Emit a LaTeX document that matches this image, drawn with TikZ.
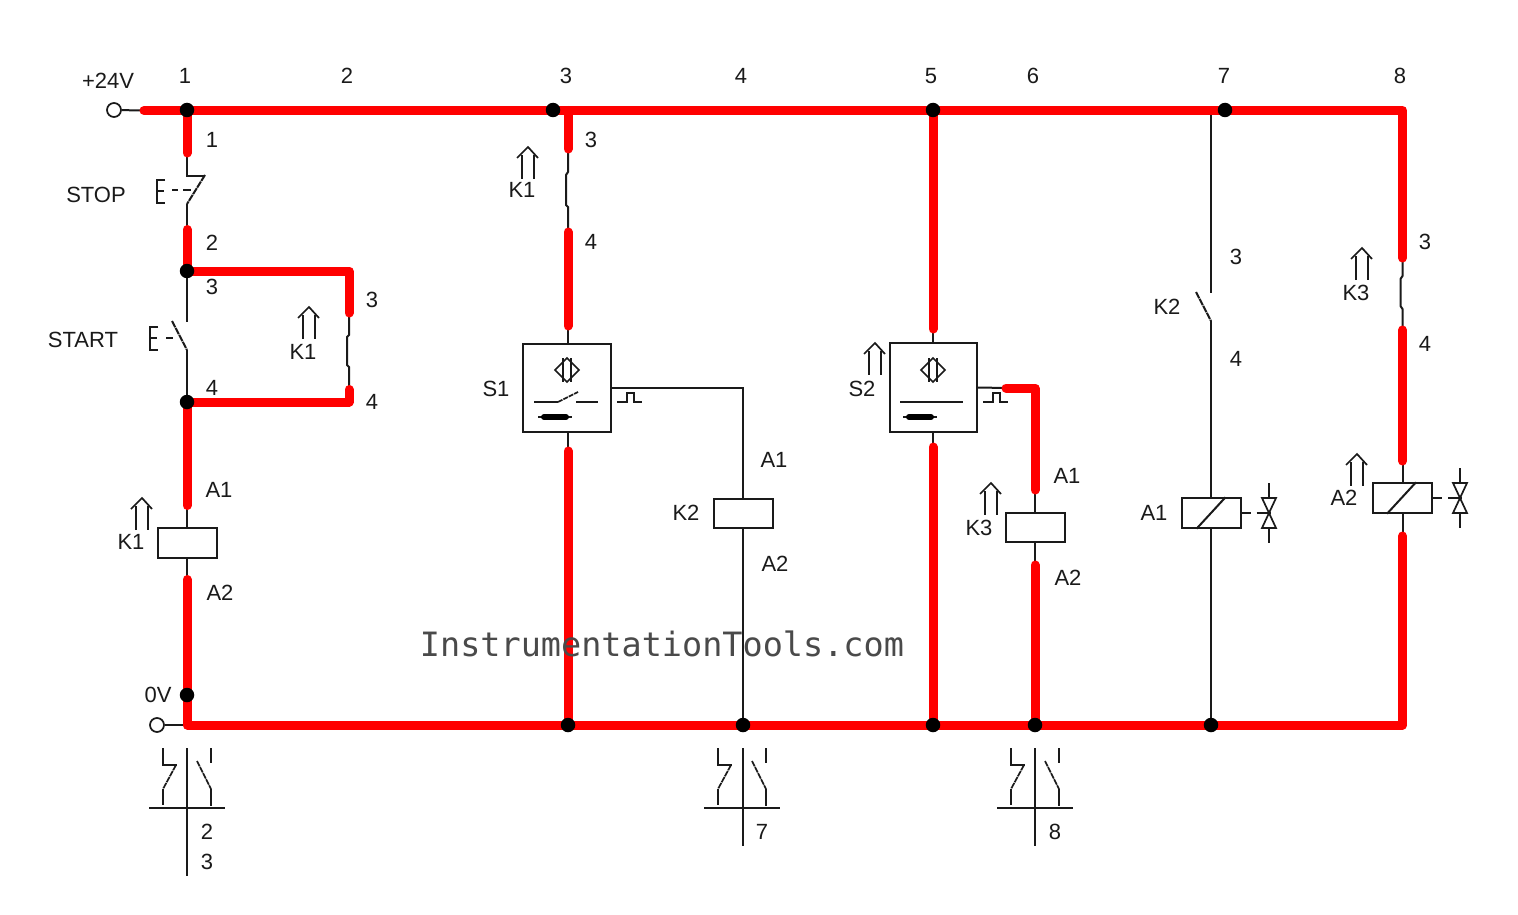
\documentclass[tikz,border=0pt]{standalone}
\usepackage{fontspec}
\setmainfont{Liberation Sans}
\newfontfamily\wmfont{DejaVu Sans Mono}
\usetikzlibrary{calc}
\definecolor{ink}{HTML}{1A1A1A}
\definecolor{wmink}{HTML}{4A4A4A}
\tikzset{
  hot/.style={draw=red,line width=9pt,line cap=round,line join=round},
  wire/.style={draw=ink,line width=2pt,line join=miter},
  fine/.style={draw=ink,line width=1.7pt},
  dot/.style={circle,fill=black,draw=none,minimum size=14.5pt,inner sep=0pt},
  term/.style={circle,fill=white,draw=ink,line width=1.7pt,minimum size=14pt,inner sep=0pt},
  lbl/.style={text=ink,inner sep=0pt,font=\fontsize{22}{22}\selectfont},
  coilbox/.style={rectangle,draw=ink,line width=2pt,fill=white,minimum width=59pt,minimum height=29.5pt,inner sep=0pt},
  sensebox/.style={rectangle,draw=ink,line width=2pt,fill=white,inner sep=0pt},
  upmark/.pic={
    \draw[fine] (-6,8)--(-6,32) (6,8)--(6,32);
    \draw[fine] (-11,11)--(0,0)--(10,11);
  },
  ehandle/.pic={
    \draw[fine] (8,0)--(0,0)--(0,23)--(8,23) (0,11)--(7,11);
  },
  sensorhead/.pic={
    \draw[fine] (-12,0)--(0,-12)--(12,0)--(0,12)--cycle;
    \draw[fine] (-4,-12)--(-4,12);
    \draw[line width=2.4pt,draw=ink] (4,-12)--(4,12);
  },
  magbar/.pic={
    \draw[line width=2pt,draw=ink] (-17,0)--(17,0);
    \draw[line width=6pt,draw=black,line cap=round] (-11,0)--(11,0);
  },
  pulse/.pic={
    \draw[fine] (0,9)--(10,9)--(10,0)--(17,0)--(17,9)--(25,9);
  },
  valve/.pic={
    \draw[fine] (0,-30)--(0,-15) (0,15)--(0,30);
    \draw[fine] (-7,-15)--(7,-15)--(-7,15)--(7,15)--cycle;
  },
  auxset/.pic={
    \draw[fine] (-24,0)--(-24,17)--(-10,17);
    \draw[fine,dash pattern=on 6pt off 0.8pt] (-11,17)--(-24,41);
    \draw[fine] (-24,41)--(-24,57);
    \draw[fine] (24,0)--(24,15);
    \draw[fine,dash pattern=on 6pt off 0.8pt] (10,13)--(24,41);
    \draw[fine] (24,41)--(24,58);
    \draw[fine] (-38,60)--(38,60);
  },
}
\begin{document}
\begin{tikzpicture}[x=1pt,y=-1pt]
\useasboundingbox (0,0) rectangle (1518,915);
\fill[white] (0,0) rectangle (1518,915);

% rail and junction positions
\coordinate (railL) at (144,110.5);
\coordinate (railR) at (1402.5,110.5);
\coordinate (botR) at (1402.5,725);
\coordinate (t1) at (187,110.5);
\coordinate (t3) at (568,110.5);
\coordinate (t5) at (933,110.5);
\coordinate (t7) at (1211,110.5);
\coordinate (b1) at (187,725);
\coordinate (b3) at (568,725);
\coordinate (b4) at (743,725);
\coordinate (b5) at (933,725);
\coordinate (b6) at (1035,725);
\coordinate (b7) at (1211,725);

% boxes
\node[coilbox] (K1c) at (187,543) {};
\node[coilbox] (K2c) at (743,513.5) {};
\node[coilbox] (K3c) at (1035,527.5) {};
\node[coilbox] (A1c) at (1211,513) {};
\node[coilbox] (A2c) at (1402.5,498) {};
\node[sensebox,minimum width=88pt,minimum height=88pt] (S1b) at (567,388) {};
\node[sensebox,minimum width=87pt,minimum height=89pt] (S2b) at (933.5,387.5) {};

% stub end points
\coordinate (s1a) at (187,153);
\coordinate (s1b) at (187,229.5);
\coordinate (j2) at (187,271);
\coordinate (j4) at (187,402);
\coordinate (r2a) at (349,271);
\coordinate (r2b) at (349,313);
\coordinate (r2c) at (349,389.5);
\coordinate (r2d) at (349,402);
\coordinate (k1a) at (187,505.5);
\coordinate (k1b) at (187,579.5);
\coordinate (m3a) at (568,149);
\coordinate (m3b) at (568,232);
\coordinate (m3c) at (568,326);
\coordinate (m3d) at (568,451);
\coordinate (m5a) at (933,329);
\coordinate (m5b) at (933,447);
\coordinate (m6o) at (1006,388);
\coordinate (m6c) at (1035,388);
\coordinate (m6a) at (1035,490);
\coordinate (m6b) at (1035,565);
\coordinate (m8a) at (1402.5,258);
\coordinate (m8b) at (1402.5,330);
\coordinate (m8c) at (1402.5,461);
\coordinate (m8d) at (1402.5,536);
\coordinate (m4c) at (743,388);

% de-energised wiring
\node[term] (tp) at (114,110) {};
\node[term] (tn) at (157,725) {};
\path[wire] (tp)--(railL);
\path[wire] (tn)--(b1);
\path[wire] (s1a)--(187,176)--(205,176);
\path[wire,dash pattern=on 7pt off 0.8pt] (205,175)--(187,204);
\path[wire] (187,204)--(s1b);
\path[fine] (172,190)--(178,190) (183,190)--(191,190);
\path[wire] (j2)--(187,322);
\path[wire,dash pattern=on 7pt off 0.8pt] (172,321)--(187,350);
\path[wire] (187,350)--(j4);
\path[fine] (166,338)--(173,338);
\pic at (157,180) {ehandle};
\pic at (150,327) {ehandle};
\path[wire] (r2b)--(349,335)--(347,337)--(347,365)--(349,367)--(r2c);
\path[wire] (m3a)--(568,172)--(566,175)--(566,205)--(568,207)--(m3b);
\path[wire] (m8a)--(1402.5,276)--(1400.5,279)--(1400.5,306)--(1402.5,309)--(m8b);
\path[wire] (k1a)--(K1c.north) (K1c.south)--(k1b);
\path[wire] (m3c)--(m3c|-S1b.north) (m3d|-S1b.south)--(m3d);
\path[wire] (S1b.east)--(m4c)--(K2c.north);
\path[wire] (K2c.south)--(b4);
\path[wire] (m5a)--(m5a|-S2b.north) (m5b|-S2b.south)--(m5b);
\path[wire] (S2b.east)--(m6o);
\path[wire] (m6a)--(K3c.north) (K3c.south)--(m6b);
\path[wire] (t7)--(1211,293);
\path[wire,dash pattern=on 7pt off 0.8pt] (1196,292)--(1211,321);
\path[wire] (1211,321)--(A1c.north);
\path[wire] (A1c.south)--(b7);
\path[wire] (m8c)--(A2c.north) (A2c.south)--(m8d);
\path[wire] (A1c.south west)+(16,0)--($(A1c.north west)+(45,0)$);
\path[wire] (A2c.south west)+(15,0)--($(A2c.north west)+(44,0)$);
\path[wire] (A1c.east)-- ++(9,0) ++(6,0)-- ++(14,0);
\path[wire] (A2c.east)-- ++(9,0) ++(6,0)-- ++(14,0);
\pic at (1269,513) {valve};
\pic at (1460,498) {valve};

% energised wiring
\path[hot] (railL)--(railR)--(m8a);
\path[hot] (m8b)--(m8c);
\path[hot] (m8d)--(botR)--(b1)--(k1b);
\path[hot] (t1)--(s1a);
\path[hot] (s1b)--(j2)--(r2a)--(r2b);
\path[hot] (r2c)--(r2d)--(j4)--(k1a);
\path[hot] (t3)--(m3a);
\path[hot] (m3b)--(m3c);
\path[hot] (m3d)--(b3);
\path[hot] (t5)--(m5a);
\path[hot] (m5b)--(b5);
\path[hot] (m6o)--(m6c)--(m6a);
\path[hot] (m6b)--(b6);

% sensor internals
\pic at (567,370) {sensorhead};
\pic at (933,370) {sensorhead};
\path[fine] (534,402)--(558,402) (576,402)--(598,402);
\path[fine,dash pattern=on 5pt off 1pt] (558,402)--(578,392);
\path[fine] (900,402)--(963,402);
\pic at (555,417) {magbar};
\pic at (920,417) {magbar};
\pic at (617,393) {pulse};
\pic at (983,393) {pulse};

% mechanical links
\pic at (142,498) {upmark};
\pic at (309,307) {upmark};
\pic at (528,147) {upmark};
\pic at (875,343) {upmark};
\pic at (991,483) {upmark};
\pic at (1362,248) {upmark};
\pic at (1357,454) {upmark};
\pic at (187,748) {auxset};
\pic at (742,748) {auxset};
\pic at (1035,748) {auxset};
\path[wire] (187,748)--(187,876);
\path[wire] (743,748)--(743,846);
\path[wire] (1035,748)--(1035,846);

% junction dots
\node[dot] (d1) at (187,110) {};
\node[dot] (d2) at (553,110) {};
\node[dot] (d3) at (933,110) {};
\node[dot] (d4) at (1225,110) {};
\node[dot] (d5) at (j2) {};
\node[dot] (d6) at (j4) {};
\node[dot] (d7) at (187,695) {};
\node[dot] (d8) at (b3) {};
\node[dot] (d9) at (b4) {};
\node[dot] (d10) at (b5) {};
\node[dot] (d11) at (b6) {};
\node[dot] (d12) at (b7) {};

% labels
\node[lbl] (l01) at (108,81) {+24V};
\node[lbl] (l02) at (185,76) {1};
\node[lbl] (l03) at (347,76) {2};
\node[lbl] (l04) at (566,76) {3};
\node[lbl] (l05) at (741,76) {4};
\node[lbl] (l06) at (931,76) {5};
\node[lbl] (l07) at (1033,76) {6};
\node[lbl] (l08) at (1224,76) {7};
\node[lbl] (l09) at (1400,76) {8};
\node[lbl] (l10) at (212,140) {1};
\node[lbl] (l11) at (96,195) {STOP};
\node[lbl] (l12) at (212,243) {2};
\node[lbl] (l13) at (212,287) {3};
\node[lbl] (l14) at (83,340) {START};
\node[lbl] (l15) at (303,352) {K1};
\node[lbl] (l16) at (372,300) {3};
\node[lbl] (l17) at (372,402) {4};
\node[lbl] (l18) at (212,388) {4};
\node[lbl] (l19) at (219,490) {A1};
\node[lbl] (l20) at (131,542) {K1};
\node[lbl] (l21) at (220,593) {A2};
\node[lbl] (l22) at (158,695) {0V};
\node[lbl] (l23) at (591,140) {3};
\node[lbl] (l24) at (522,190) {K1};
\node[lbl] (l25) at (591,242) {4};
\node[lbl] (l26) at (496,389) {S1};
\node[lbl] (l27) at (774,460) {A1};
\node[lbl] (l28) at (686,513) {K2};
\node[lbl] (l29) at (775,564) {A2};
\node[lbl] (l30) at (862,389) {S2};
\node[lbl] (l31) at (1067,476) {A1};
\node[lbl] (l32) at (979,528) {K3};
\node[lbl] (l33) at (1068,578) {A2};
\node[lbl] (l34) at (1236,257) {3};
\node[lbl] (l35) at (1167,307) {K2};
\node[lbl] (l36) at (1236,359) {4};
\node[lbl] (l37) at (1154,513) {A1};
\node[lbl] (l38) at (1425,242) {3};
\node[lbl] (l39) at (1356,293) {K3};
\node[lbl] (l40) at (1425,344) {4};
\node[lbl] (l41) at (1344,498) {A2};
\node[lbl] (l42) at (207,832) {2};
\node[lbl] (l43) at (207,862) {3};
\node[lbl] (l44) at (762,832) {7};
\node[lbl] (l45) at (1055,832) {8};
\node[text=wmink,inner sep=0pt,font=\wmfont\fontsize{33.5}{33.5}\selectfont] (wm) at (662,644) {InstrumentationTools.com};
\end{tikzpicture}
\end{document}
